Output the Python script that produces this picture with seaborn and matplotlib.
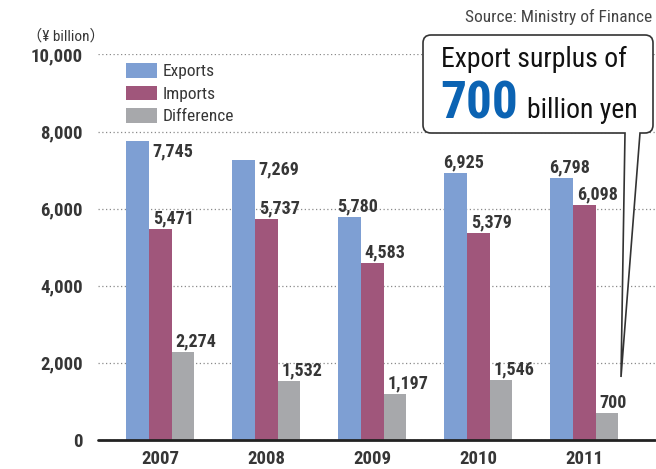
import matplotlib
matplotlib.use("Agg")
import matplotlib.pyplot as plt
from matplotlib.patches import Patch, PathPatch
from matplotlib.path import Path
import seaborn as sns
import pandas as pd

# ---- data (¥ billion) ----
years = ["2007", "2008", "2009", "2010", "2011"]
exports = [7745, 7269, 5780, 6925, 6798]
imports = [5471, 5737, 4583, 5379, 6098]
difference = [2274, 1532, 1197, 1546, 700]
series_names = ["Exports", "Imports", "Difference"]
y_ticks = [0, 2000, 4000, 6000, 8000, 10000]
surplus_value = difference[-1]

colors = ["#7e9fd3", "#a0567b", "#a7a8ab"]
TEXT = "#363636"
FONT = ["Roboto Condensed", "Liberation Sans Narrow", "DejaVu Sans", "Noto Sans CJK JP"]

W, H = 656, 469
sns.set_theme(style="white")
plt.rcParams["font.family"] = FONT

df = pd.DataFrame({
    "year": years * 3,
    "series": sum([[s] * len(years) for s in series_names], []),
    "value": exports + imports + difference,
})

fig = plt.figure(figsize=(W / 100, H / 100), dpi=100)
ax = fig.add_axes([98 / W, 1 - 440 / H, (655 - 98) / W, (440 - 54.5) / H])

sns.barplot(data=df, x="year", y="value", hue="series", hue_order=series_names,
            palette=colors, saturation=1, width=0.645, gap=0, linewidth=0,
            legend=False, ax=ax)

ax.set_ylim(0, 10000)
ax.set_xlim(-0.587, 4.668)
ax.set_yticks(y_ticks)
ax.set_yticklabels([f"{v:,}" for v in y_ticks])
ax.set_xlabel("")
ax.set_ylabel("")
for s in ax.spines.values():
    s.set_visible(False)
ax.tick_params(axis="y", length=0, pad=11, labelsize=13.5, labelcolor=TEXT)
ax.tick_params(axis="x", length=0, pad=7.5, labelsize=13.5, labelcolor=TEXT)
for lab in ax.get_xticklabels() + ax.get_yticklabels():
    lab.set_fontweight("bold")

ax.yaxis.grid(True, linestyle=(0, (1, 2)), color="#8a8a8a", linewidth=0.9)
ax.set_axisbelow(True)
ax.axhline(0, color="#222222", linewidth=2, zorder=5, clip_on=False)

# ---- value labels ----
PX = 0.72  # points per pixel
export_side = ["right", "right", "top", "top", "top"]
for si, cont in enumerate(ax.containers):
    for yi, bar in enumerate(cont):
        val = int(round(bar.get_height()))
        x0 = bar.get_x()
        top = bar.get_height()
        if si == 0 and export_side[yi] == "right":
            xy, off = (x0 + bar.get_width(), top), (4 * PX, -14.5 * PX)
        elif si == 0:
            xy, off = (x0, top), (-1 * PX, 5.5 * PX)
        else:
            xy, off = (x0, top), (4 * PX, 5.5 * PX)
        ax.annotate(f"{val:,}", xy=xy, xytext=off, textcoords="offset points",
                    ha="left", va="baseline", fontsize=13, color=TEXT,
                    fontweight="bold")

# ---- legend ----
handles = [Patch(facecolor=c, edgecolor="none") for c in colors]
fig.legend(handles, series_names, loc="upper left",
           bbox_to_anchor=(126 / W, 1 - 63 / H), frameon=False,
           fontsize=12.5, handlelength=1.77, handleheight=0.92,
           handletextpad=0.32, labelspacing=0.36, borderpad=0,
           borderaxespad=0, labelcolor=TEXT)

# ---- axis unit and source ----
def fx(x):
    return x / W

def fy(y):
    return 1 - y / H

fig.text(fx(27), fy(41), "（¥ billion）", fontsize=11, color=TEXT,
         ha="left", va="baseline",
         family=["Roboto Condensed", "Noto Sans CJK JP", "DejaVu Sans"])
fig.text(fx(652), fy(22), "Source: Ministry of Finance", fontsize=12.5,
         color="#444444", ha="right", va="baseline")

# ---- callout ----
L, R, T, B, r = 423, 653, 35, 133, 8
tip_x = 621
tail_l, tail_r = 625, 640
y_tip = 440 - surplus_value * (440 - 54.5) / 10000 - 36
pts = [
    ((L + r, T), Path.MOVETO), ((R - r, T), Path.LINETO),
    ((R, T), Path.CURVE3), ((R, T + r), Path.CURVE3),
    ((R, B - r), Path.LINETO),
    ((R, B), Path.CURVE3), ((R - r, B), Path.CURVE3),
    ((tail_r, B), Path.LINETO), ((tip_x, y_tip), Path.LINETO),
    ((tail_l, B), Path.LINETO), ((L + r, B), Path.LINETO),
    ((L, B), Path.CURVE3), ((L, B - r), Path.CURVE3),
    ((L, T + r), Path.LINETO),
    ((L, T), Path.CURVE3), ((L + r, T), Path.CURVE3),
    ((L + r, T), Path.CLOSEPOLY),
]
path = Path([(fx(x), fy(y)) for (x, y), _ in pts], [c for _, c in pts])
fig.add_artist(PathPatch(path, transform=fig.transFigure, facecolor="white",
                         edgecolor="#333333", linewidth=1.2, zorder=10))

fig.text(fx(441), fy(67), "Export surplus of", fontsize=20, color="#111111",
         ha="left", va="baseline", zorder=11)
fig.text(fx(440), fy(118.5), f"{surplus_value}", fontsize=37, color="#0b63b3",
         fontweight="bold", ha="left", va="baseline", zorder=11)
fig.text(fx(527), fy(118.5), "billion yen", fontsize=20, color="#111111",
         ha="left", va="baseline", zorder=11)

fig.savefig("out.png", dpi=100)
